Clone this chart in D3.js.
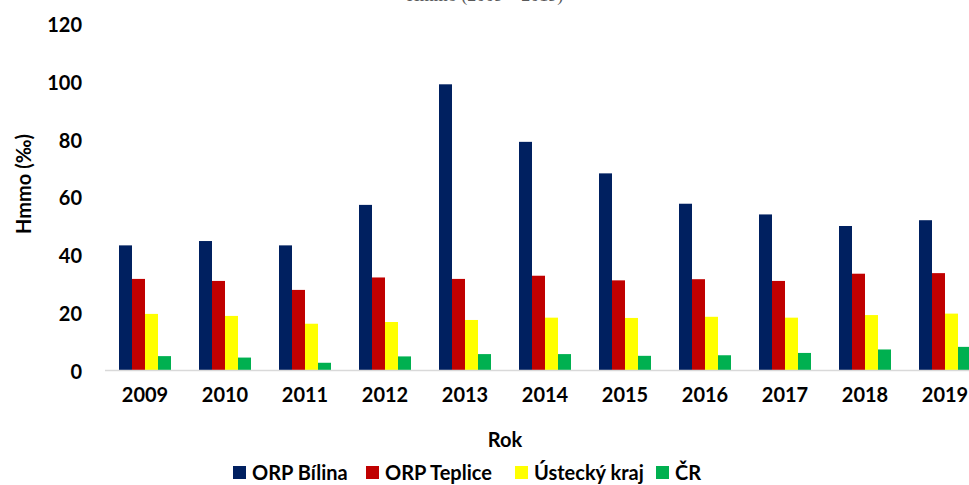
<!DOCTYPE html>
<html><head><meta charset="utf-8">
<script src="https://cdn.jsdelivr.net/npm/d3@7"></script>
<style>body{margin:0;background:#fff;} svg{display:block;}</style>
</head><body>
<svg id="c" width="969" height="485"></svg>
<script>
const years = ["2009","2010","2011","2012","2013","2014","2015","2016","2017","2018","2019"];
const seriesNames = ["ORP Bílina","ORP Teplice","Ústecký kraj","ČR"];
const bilina  = [43.1,44.6,43.1,57.1,98.8,78.9,68.0,57.5,53.8,49.8,51.8];
const teplice = [31.5,30.8,27.7,32.0,31.5,32.6,31.0,31.4,30.8,33.3,33.5];
const ustecky = [19.4,18.7,16.0,16.6,17.3,18.1,18.0,18.4,18.1,19.0,19.5];
const cr      = [4.8,4.3,2.5,4.7,5.5,5.5,4.9,5.1,5.9,7.1,8.0];
const yTicks = [0,20,40,60,80,100,120];
const colors = ["#002060","#C00000","#FFFF00","#00B050"];
const seriesValues = [bilina, teplice, ustecky, cr];

const svg = d3.select("#c");
const font = "Lato, 'Open Sans', sans-serif";

const x0 = d3.scaleBand().domain(years).range([105,985]).paddingInner(0.35).paddingOuter(0.175);
const x1 = d3.scaleBand().domain(seriesNames).range([0,x0.bandwidth()]);
const y = d3.scaleLinear().domain([0,120]).range([370,23]);

// cut-off title
svg.append("text").attr("x",485).attr("y",1).attr("text-anchor","middle")
  .attr("font-family","'Liberation Serif', serif").attr("font-size",18).attr("fill","#595959")
  .text("Hmmo (2009 – 2019)");

// bars
const g = svg.append("g");
years.forEach((yr,i)=>{
  seriesNames.forEach((s,j)=>{
    const v = seriesValues[j][i];
    g.append("rect").attr("x",x0(yr)+x1(s)).attr("width",x1.bandwidth())
      .attr("y",y(v)).attr("height",y(0)-y(v)).attr("fill",colors[j]);
  });
});

// x axis line
svg.append("line").attr("x1",105).attr("x2",969).attr("y1",y(0)+0.5).attr("y2",y(0)+0.5)
  .attr("stroke","#D9D9D9").attr("stroke-width",1.5);

// y axis labels
const yAxis = d3.axisLeft(y).tickValues(yTicks).tickSize(0).tickPadding(0);
const ya = svg.append("g").attr("transform","translate(82,2)").call(yAxis);
ya.select(".domain").remove();
ya.selectAll("text").attr("font-family",font).attr("font-weight","bold").attr("font-size",20).attr("fill","#000");

// x axis labels
const xAxis = d3.axisBottom(x0).tickSize(0).tickPadding(0);
const xa = svg.append("g").attr("transform","translate(0,388)").call(xAxis);
xa.select(".domain").remove();
xa.selectAll("text").attr("font-family",font).attr("font-weight","bold").attr("font-size",20).attr("fill","#000");

// axis titles
svg.append("text").attr("x",505).attr("y",447).attr("text-anchor","middle")
  .attr("font-family",font).attr("font-weight","bold").attr("font-size",20).text("Rok");
svg.append("text").attr("transform","translate(31,184) rotate(-90)").attr("text-anchor","middle")
  .attr("font-family",font).attr("font-weight","bold").attr("font-size",20).text("Hmmo (‰)");

// legend
const legX = [233,366,515,656];
seriesNames.forEach((s,j)=>{
  svg.append("rect").attr("x",legX[j]).attr("y",466).attr("width",13).attr("height",13).attr("fill",colors[j]);
  svg.append("text").attr("x",legX[j]+19).attr("y",480).attr("font-family",font).attr("font-weight","bold")
    .attr("font-size",20).text(s);
});
</script>
</body></html>
